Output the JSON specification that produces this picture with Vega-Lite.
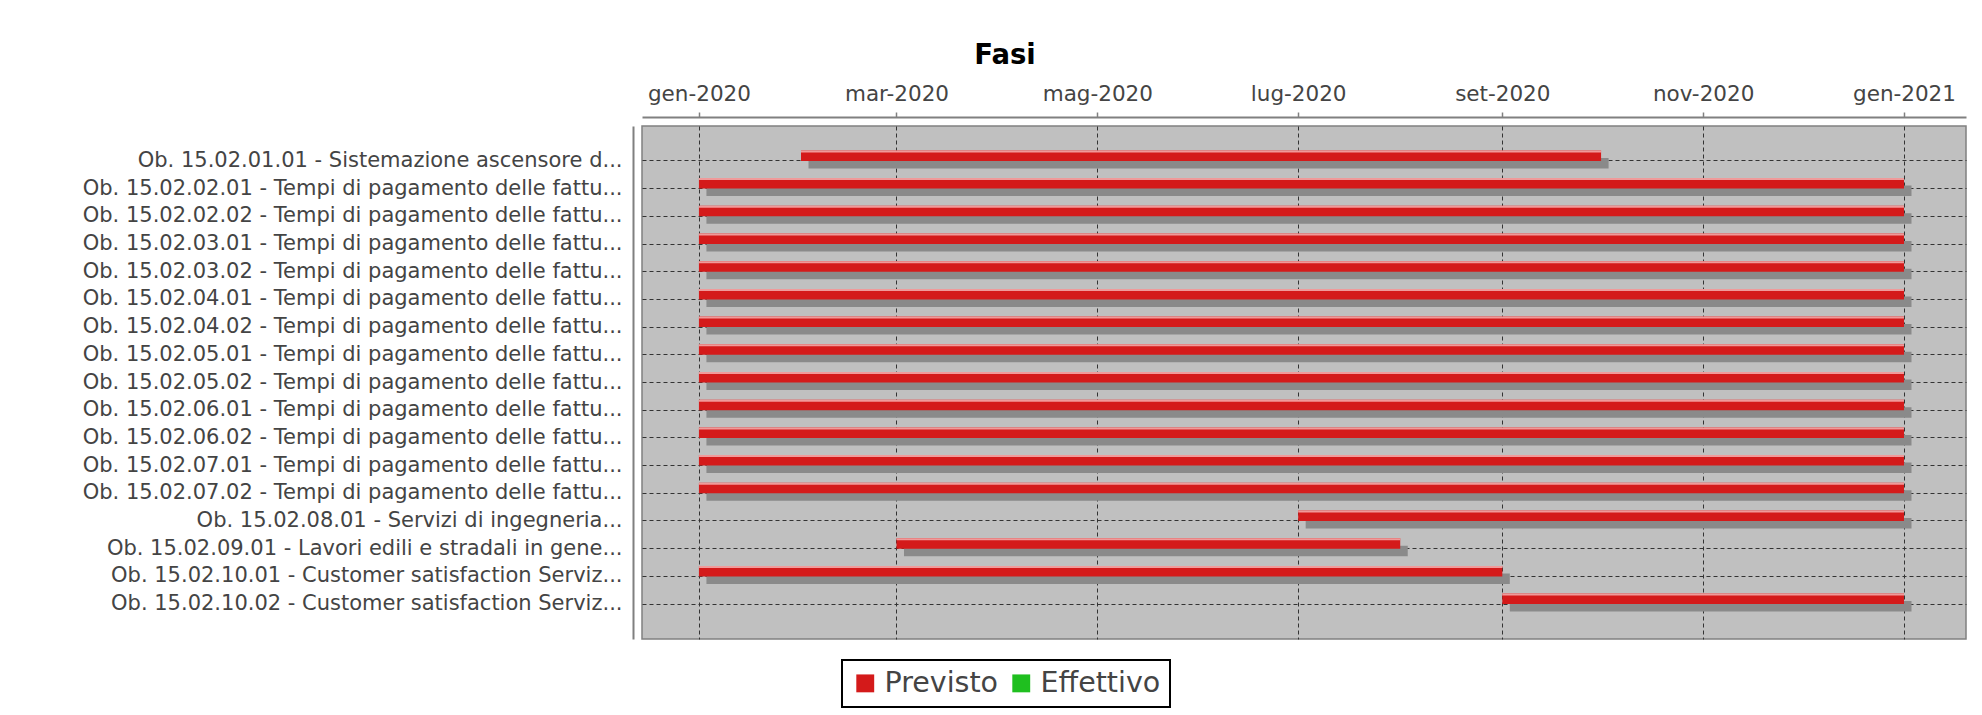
{
  "$schema": "https://vega.github.io/schema/vega-lite/v6.json",
  "width": 1324,
  "height": 513,
  "autosize": {"type": "none"},
  "padding": {"left": 642, "top": 126, "right": 16, "bottom": 76},
  "background": "white",
  "title": {"text": "Fasi", "fontSize": 27.5, "fontWeight": "bold", "font": "DejaVu Sans", "color": "black", "anchor": "middle", "dx": -299, "offset": 14},
  "data": {"values": [
    {"fase": "Ob. 15.02.01.01 - Sistemazione ascensore d...", "inizio": "2020-02-01", "fine": "2020-10-01", "serie": "Previsto"},
    {"fase": "Ob. 15.02.02.01 - Tempi di pagamento delle fattu...", "inizio": "2020-01-01", "fine": "2021-01-01", "serie": "Previsto"},
    {"fase": "Ob. 15.02.02.02 - Tempi di pagamento delle fattu...", "inizio": "2020-01-01", "fine": "2021-01-01", "serie": "Previsto"},
    {"fase": "Ob. 15.02.03.01 - Tempi di pagamento delle fattu...", "inizio": "2020-01-01", "fine": "2021-01-01", "serie": "Previsto"},
    {"fase": "Ob. 15.02.03.02 - Tempi di pagamento delle fattu...", "inizio": "2020-01-01", "fine": "2021-01-01", "serie": "Previsto"},
    {"fase": "Ob. 15.02.04.01 - Tempi di pagamento delle fattu...", "inizio": "2020-01-01", "fine": "2021-01-01", "serie": "Previsto"},
    {"fase": "Ob. 15.02.04.02 - Tempi di pagamento delle fattu...", "inizio": "2020-01-01", "fine": "2021-01-01", "serie": "Previsto"},
    {"fase": "Ob. 15.02.05.01 - Tempi di pagamento delle fattu...", "inizio": "2020-01-01", "fine": "2021-01-01", "serie": "Previsto"},
    {"fase": "Ob. 15.02.05.02 - Tempi di pagamento delle fattu...", "inizio": "2020-01-01", "fine": "2021-01-01", "serie": "Previsto"},
    {"fase": "Ob. 15.02.06.01 - Tempi di pagamento delle fattu...", "inizio": "2020-01-01", "fine": "2021-01-01", "serie": "Previsto"},
    {"fase": "Ob. 15.02.06.02 - Tempi di pagamento delle fattu...", "inizio": "2020-01-01", "fine": "2021-01-01", "serie": "Previsto"},
    {"fase": "Ob. 15.02.07.01 - Tempi di pagamento delle fattu...", "inizio": "2020-01-01", "fine": "2021-01-01", "serie": "Previsto"},
    {"fase": "Ob. 15.02.07.02 - Tempi di pagamento delle fattu...", "inizio": "2020-01-01", "fine": "2021-01-01", "serie": "Previsto"},
    {"fase": "Ob. 15.02.08.01 - Servizi di ingegneria...", "inizio": "2020-07-01", "fine": "2021-01-01", "serie": "Previsto"},
    {"fase": "Ob. 15.02.09.01 - Lavori edili e stradali in gene...", "inizio": "2020-03-01", "fine": "2020-08-01", "serie": "Previsto"},
    {"fase": "Ob. 15.02.10.01 - Customer satisfaction Serviz...", "inizio": "2020-01-01", "fine": "2020-09-01", "serie": "Previsto"},
    {"fase": "Ob. 15.02.10.02 - Customer satisfaction Serviz...", "inizio": "2020-09-01", "fine": "2021-01-01", "serie": "Previsto"}
  ]},
  "encoding": {
    "y": {
      "field": "fase", "type": "nominal", "sort": null,
      "scale": {"paddingInner": 0, "paddingOuter": 0.76},
      "axis": {
        "title": null, "bandPosition": 0.5, "offset": 9,
        "ticks": false, "tickSize": 0, "labelPadding": 11, "labelLimit": 0,
        "labelFontSize": 21, "labelColor": "#444444", "labelFont": "DejaVu Sans",
        "domainColor": "#808080", "domainWidth": 2,
        "grid": true, "gridColor": "#333333", "gridDash": [4, 3], "gridWidth": 1
      }
    },
    "x": {
      "field": "inizio", "type": "temporal",
      "scale": {"type": "utc", "domain": [
        {"year": 2019, "month": 12, "date": 14, "hours": 17, "utc": true},
        {"year": 2021, "month": 1, "date": 19, "hours": 20, "utc": true}
      ]},
      "axis": {
        "orient": "top", "title": null, "offset": 9,
        "values": [
          {"year": 2020, "month": 1, "date": 1, "utc": true},
          {"year": 2020, "month": 3, "date": 1, "utc": true},
          {"year": 2020, "month": 5, "date": 1, "utc": true},
          {"year": 2020, "month": 7, "date": 1, "utc": true},
          {"year": 2020, "month": 9, "date": 1, "utc": true},
          {"year": 2020, "month": 11, "date": 1, "utc": true},
          {"year": 2021, "month": 1, "date": 1, "utc": true}
        ],
        "labelExpr": "['gen','feb','mar','apr','mag','giu','lug','ago','set','ott','nov','dic'][utcmonth(datum.value)] + '-' + utcyear(datum.value)",
        "labelFontSize": 21.5, "labelColor": "#444444", "labelFont": "DejaVu Sans", "labelPadding": 7,
        "tickSize": 5, "tickColor": "#808080", "tickWidth": 1.5,
        "domainColor": "#808080", "domainWidth": 2,
        "grid": true, "gridColor": "#333333", "gridDash": [4, 3], "gridWidth": 1
      }
    },
    "x2": {"field": "fine"}
  },
  "layer": [
    {"mark": {"type": "bar", "height": 10.5, "yOffset": 2.25, "xOffset": 7.5, "x2Offset": 7.5, "color": "#8a8a8a"}},
    {
      "mark": {"type": "bar", "height": 10.5, "yOffset": -5.25},
      "encoding": {
        "color": {
          "field": "serie", "type": "nominal",
          "scale": {"domain": ["Previsto", "Effettivo"], "range": ["#d41a1a", "#1fbf1f"]},
          "legend": {
            "orient": "none", "legendX": 200, "legendY": 534, "direction": "horizontal",
            "title": null, "strokeColor": "black", "padding": 9,
            "symbolType": "square", "symbolSize": 320, "symbolStrokeWidth": 0, "symbolOpacity": 1,
            "labelFontSize": 28.5, "labelColor": "#444444", "labelFont": "DejaVu Sans",
            "columnPadding": 8, "labelOffset": 5
          }
        }
      }
    },
    {"mark": {"type": "bar", "height": 2, "yOffset": -9.5, "color": "#f09a9a"}}
  ],
  "config": {
    "font": "DejaVu Sans",
    "view": {"fill": "#c0c0c0", "stroke": "#808080", "strokeWidth": 1.5},
    "legend": {"strokeWidth": 2}
  }
}
